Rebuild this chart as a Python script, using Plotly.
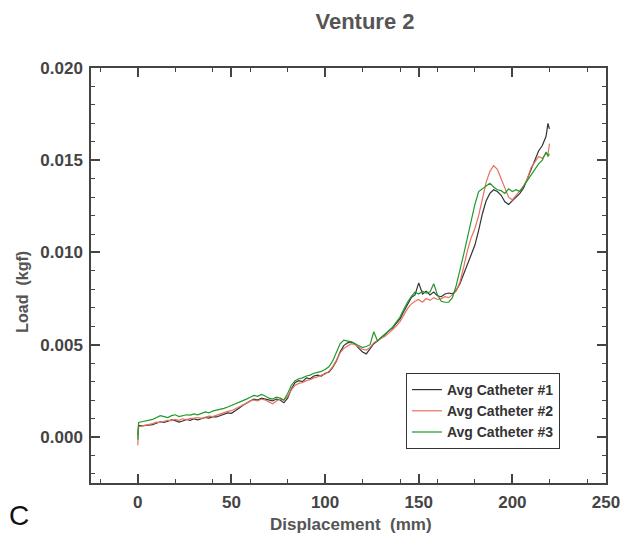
import plotly.graph_objects as go

# Displacement (mm) – shared sample positions
displacement = [0, 0.4] + list(range(2, 219, 2)) + [219, 219.8]

# Loads in gram-force (gf); converted to kgf below
load_cath1_gf = [0.10, 0.62, 0.60, 0.62, 0.68, 0.66, 0.75, 0.82, 0.78, 0.85, 0.92, 0.88,
                 0.80, 0.86, 0.95, 0.90, 0.98, 0.92, 1.00, 1.05, 1.02, 1.10, 1.08, 1.15,
                 1.22, 1.30, 1.28, 1.40, 1.55, 1.70, 1.85, 1.95, 2.05, 2.00, 2.10, 2.05,
                 2.00, 1.95, 2.05, 2.00, 1.85, 2.10, 2.60, 2.95, 3.05, 3.00, 3.20, 3.15,
                 3.30, 3.35, 3.30, 3.45, 3.50, 3.75, 4.10, 4.60, 4.95, 5.10, 5.15, 5.05,
                 4.80, 4.60, 4.50, 4.75, 5.05, 5.20, 5.35, 5.55, 5.75, 5.90, 6.15, 6.40,
                 6.80, 7.20, 7.55, 7.70, 8.35, 7.75, 7.90, 7.70, 7.85, 7.65, 7.60, 7.75,
                 7.80, 7.75, 7.95, 8.30, 8.80, 9.40, 9.90, 10.40, 11.20, 12.10, 12.80, 13.20,
                 13.40, 13.30, 13.10, 12.75, 12.60, 12.80, 13.00, 13.20, 13.50, 14.00, 14.60,
                 15.10, 15.50, 15.80, 16.30, 17.00, 16.70]

load_cath2_gf = [-0.45, 0.55, 0.58, 0.62, 0.70, 0.72, 0.80, 0.78, 0.85, 0.90, 0.88, 0.95,
                 0.90, 0.98, 0.92, 1.00, 1.02, 1.05, 1.00, 1.08, 1.12, 1.10, 1.18, 1.25,
                 1.30, 1.38, 1.42, 1.50, 1.62, 1.72, 1.82, 1.95, 2.00, 1.95, 2.05, 2.00,
                 1.90, 1.80, 1.95, 2.05, 2.00, 2.20, 2.55, 2.80, 2.90, 2.95, 3.05, 3.10,
                 3.20, 3.25, 3.35, 3.40, 3.55, 3.80, 4.15, 4.55, 4.80, 4.95, 5.05, 5.00,
                 4.85, 4.75, 4.70, 4.85, 5.10, 5.25, 5.35, 5.45, 5.60, 5.80, 6.00, 6.25,
                 6.60, 6.95, 7.20, 7.35, 7.45, 7.30, 7.50, 7.40, 7.55, 7.45, 7.50, 7.60,
                 7.55, 7.70, 7.90, 8.40, 9.20, 10.10, 10.80, 11.30, 12.00, 12.90, 13.80, 14.40,
                 14.70, 14.50, 14.00, 13.50, 13.00, 12.85, 13.10, 13.40, 13.60, 14.00, 14.60,
                 14.90, 15.20, 15.10, 15.40, 15.30, 15.90]

load_cath3_gf = [-0.15, 0.78, 0.82, 0.85, 0.90, 0.95, 1.05, 1.15, 1.10, 1.05, 1.15, 1.20,
                 1.10, 1.15, 1.20, 1.18, 1.25, 1.20, 1.28, 1.35, 1.30, 1.40, 1.45, 1.48,
                 1.55, 1.62, 1.70, 1.78, 1.85, 1.95, 2.05, 2.15, 2.25, 2.20, 2.30, 2.22,
                 2.10, 2.05, 2.15, 2.10, 2.00, 2.35, 2.80, 3.05, 3.15, 3.20, 3.30, 3.35,
                 3.45, 3.50, 3.55, 3.65, 3.80, 4.10, 4.55, 5.05, 5.25, 5.20, 5.15, 5.05,
                 4.95, 4.85, 4.90, 5.00, 5.70, 5.20, 5.40, 5.55, 5.75, 5.95, 6.20, 6.50,
                 6.90, 7.30, 7.60, 7.85, 7.75, 7.90, 7.80, 7.85, 8.30, 7.70, 7.35, 7.30,
                 7.30, 7.55, 8.20, 9.00, 9.90, 10.80, 11.80, 12.60, 13.30, 13.45, 13.55, 13.75,
                 13.55, 13.40, 13.35, 13.20, 13.45, 13.30, 13.40, 13.30, 13.60, 13.90, 14.20,
                 14.50, 14.80, 15.00, 15.45, 15.20, 15.35]

series_names = ["Avg Catheter #1", "Avg Catheter #2", "Avg Catheter #3"]
series_colors = ["#333333", "#e8705f", "#1f9a2a"]
series_loads = [load_cath1_gf, load_cath2_gf, load_cath3_gf]

x_ticks = [0, 50, 100, 150, 200, 250]
y_ticks = [0.000, 0.005, 0.010, 0.015, 0.020]
y_tick_labels = ["0.000", "0.005", "0.010", "0.015", "0.020"]

fig = go.Figure()
for name, color, loads in zip(series_names, series_colors, series_loads):
    fig.add_trace(go.Scatter(
        x=displacement, y=[v / 1000.0 for v in loads], mode="lines", name=name,
        line=dict(color=color, width=1.2),
    ))

FONT = "Liberation Sans, Arial, sans-serif"
axis_common = dict(
    showline=True, linecolor="#444444", linewidth=1.5, mirror="allticks",
    ticks="inside", ticklen=9, tickwidth=1.5, tickcolor="#444444",
    showgrid=False, zeroline=False,
    tickfont=dict(family=FONT, size=17, color="#444444", weight="bold"),
    minor=dict(ticks="inside", ticklen=4, tickwidth=1.2, tickcolor="#444444", showgrid=False),
)

fig.update_layout(
    width=632, height=541,
    margin=dict(l=91, r=21, t=68, b=58),
    paper_bgcolor="white", plot_bgcolor="white",
    title=dict(text="Venture 2", x=365 / 632, xref="container", xanchor="center",
               y=1 - 21 / 541, yref="container", yanchor="middle",
               font=dict(family=FONT, size=22, color="#555555", weight="bold")),
    xaxis=dict(range=[-25, 250], tickvals=x_ticks, ticklabelstandoff=3, **axis_common),
    yaxis=dict(range=[-0.0025, 0.020], tickvals=y_ticks, ticktext=y_tick_labels,
               ticklabelstandoff=3, **axis_common),
    showlegend=True,
    legend=dict(x=(409 - 91) / 520, y=(483 - 373) / 415, xanchor="left", yanchor="top",
                bordercolor="#333333", borderwidth=1, bgcolor="white",
                font=dict(family=FONT, size=14, color="#333333", weight="bold"),
                tracegroupgap=0, itemwidth=30),
    annotations=[
        dict(text="Displacement  (mm)", xref="paper", yref="paper", x=(354 - 91) / 520,
             y=-41 / 415, xanchor="center", yanchor="middle", showarrow=False,
             font=dict(family=FONT, size=17, color="#555555", weight="bold")),
        dict(text="Load  (kgf)", xref="paper", yref="paper", x=-70 / 520,
             y=(483 - 292) / 415, xanchor="center", yanchor="middle", showarrow=False,
             textangle=-90,
             font=dict(family=FONT, size=16, color="#555555", weight="bold")),
        dict(text="C", xref="paper", yref="paper", x=-73 / 520, y=-32 / 415,
             xanchor="center", yanchor="middle", showarrow=False,
             font=dict(family=FONT, size=28, color="#111111")),
    ],
)

fig.write_html("out.html")
